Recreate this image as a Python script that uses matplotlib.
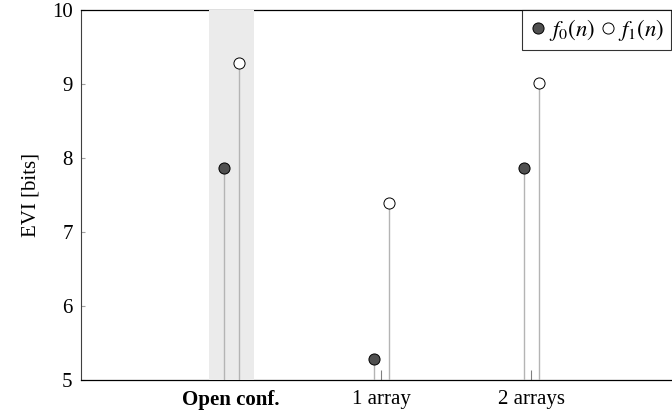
import matplotlib
matplotlib.use("Agg")
import matplotlib.pyplot as plt
import numpy as np

categories = ["Open conf.", "1 array", "2 arrays"]
f0_values = [7.86, 5.29, 7.86]
f1_values = [9.28, 7.39, 9.02]
highlight = 0  # shaded, bold category

plt.rcParams["font.family"] = ["Liberation Serif", "DejaVu Serif"]
plt.rcParams["mathtext.fontset"] = "stix"

fig = plt.figure(figsize=(6.72, 4.16), dpi=100)
# axes runs slightly past the right edge of the figure (cropped in reference)
ax = fig.add_axes([81 / 672, 36 / 416, 600 / 672, 370 / 416])

x = np.arange(1, len(categories) + 1)
off = 0.05
base = 5

ax.axvspan(x[highlight] - 0.15, x[highlight] + 0.15, color="#ebebeb", zorder=3, lw=0)

ax.vlines(x - off, base, f0_values, color="#b4b4b4", lw=1.0, zorder=4)
ax.vlines(x + off, base, f1_values, color="#b4b4b4", lw=1.0, zorder=4)
ax.plot(x - off, f0_values, "o", ms=8, mfc="#505050", mec="black", mew=0.7,
        zorder=5, label="$f_0(n)$", clip_on=False)
ax.plot(x + off, f1_values, "o", ms=8, mfc="white", mec="black", mew=0.7,
        zorder=5, label="$f_1(n)$", clip_on=False)

ax.set_xlim(0, 4)
ax.set_ylim(5, 10)
ax.set_xticks(x)
ax.set_xticklabels(categories, fontsize=15)
ax.get_xticklabels()[highlight].set_fontweight("bold")
ax.tick_params(axis="x", direction="in", length=7, color="#808080", width=0.8, pad=7)
ax.set_yticks([5, 6, 7, 8, 9, 10])
ax.tick_params(axis="y", direction="in", length=3, color="#a0a0a0", width=0.8,
               labelsize=15, pad=6)
ax.set_ylabel("EVI [bits]", fontsize=15, labelpad=8)

for s in ["top", "bottom"]:
    ax.spines[s].set_linewidth(0.9)
ax.spines["left"].set_color("#404040")

leg = ax.legend(loc="upper right", bbox_to_anchor=(590 / 600, 1.0), ncol=2,
                frameon=True, fancybox=False, borderaxespad=0,
                handletextpad=0.05, columnspacing=0.15, handlelength=0.8,
                fontsize=16.5, borderpad=0.3, markerscale=1.0)
leg.get_frame().set_edgecolor("black")
leg.get_frame().set_linewidth(0.8)
leg.set_zorder(10)

plt.savefig("out.png", dpi=100)
plt.close(fig)
